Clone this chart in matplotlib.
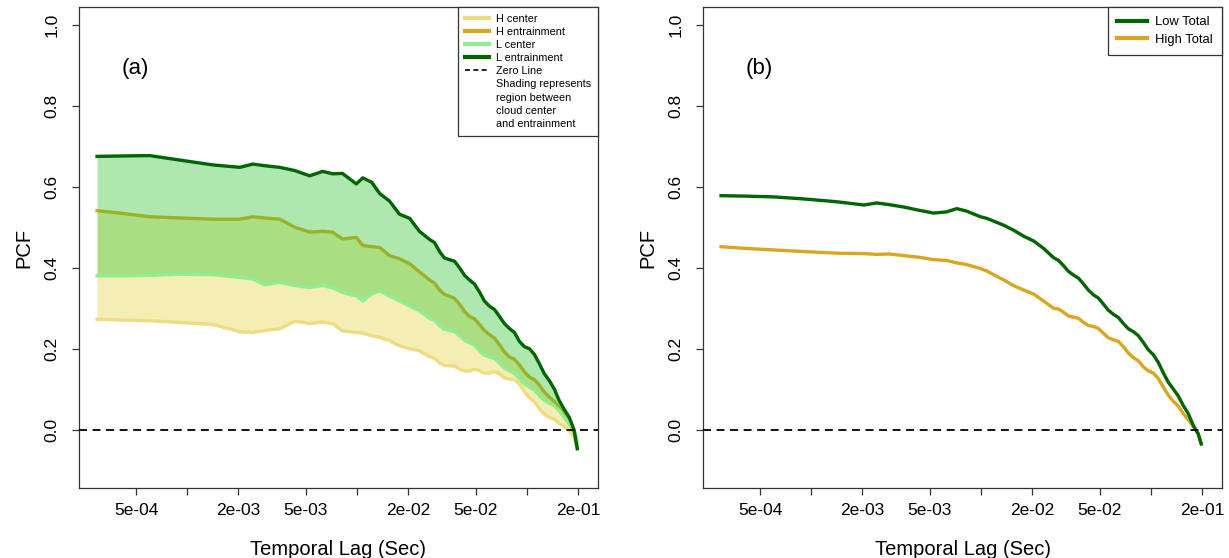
import matplotlib
matplotlib.use("Agg")
import matplotlib.pyplot as plt
from matplotlib.lines import Line2D

plt.rcParams['font.family'] = ['Liberation Sans', 'DejaVu Sans']

# ---- data ----
lag = [2.94e-4, 4.01e-4, 6.0e-4, 9.0e-4, 1.41e-3, 2.04e-3, 2.43e-3, 2.86e-3, 3.5e-3, 4.30e-3,
       5.26e-3, 6.27e-3, 7.18e-3, 8.2e-3, 9.9e-3, 1.08e-2, 1.22e-2, 1.36e-2, 1.55e-2, 1.78e-2,
       2.04e-2, 2.33e-2,
       2.67e-2, 2.86e-2, 3.06e-2, 3.27e-2, 3.50e-2, 3.75e-2, 4.01e-2, 4.30e-2, 4.59e-2, 4.91e-2,
       5.26e-2, 5.62e-2, 6.02e-2, 6.44e-2, 6.89e-2, 7.38e-2, 7.89e-2, 8.45e-2, 9.04e-2, 9.68e-2,
       0.1035, 0.1107, 0.1185, 0.1268, 0.1358, 0.1452, 0.155, 0.166, 0.178, 0.190, 0.198]

l_entrain = [0.675, 0.676, 0.677, 0.666, 0.654, 0.648, 0.656, 0.652, 0.648, 0.640,
             0.627, 0.638, 0.632, 0.633, 0.607, 0.622, 0.611, 0.583, 0.565, 0.532,
             0.522, 0.490,
             0.470, 0.462, 0.440, 0.424, 0.420, 0.416, 0.400, 0.381, 0.370, 0.360,
             0.340, 0.318, 0.305, 0.297, 0.280, 0.262, 0.250, 0.240, 0.218, 0.205,
             0.200, 0.186, 0.163, 0.138, 0.121, 0.100, 0.072, 0.050, 0.030, -0.002, -0.047]
h_entrain = [0.541, 0.535, 0.526, 0.523, 0.520, 0.520, 0.526, 0.523, 0.520, 0.500,
             0.488, 0.490, 0.488, 0.471, 0.475, 0.455, 0.452, 0.450, 0.430, 0.422,
             0.410, 0.390,
             0.370, 0.362, 0.345, 0.334, 0.330, 0.324, 0.310, 0.292, 0.280, 0.274,
             0.260, 0.245, 0.235, 0.226, 0.210, 0.192, 0.180, 0.174, 0.160, 0.143,
             0.130, 0.124, 0.110, 0.093, 0.080, 0.070, 0.055, 0.035, 0.015, -0.005, -0.040]
l_center = [0.380, 0.380, 0.381, 0.384, 0.383, 0.376, 0.372, 0.358, 0.364, 0.356,
            0.351, 0.356, 0.350, 0.339, 0.330, 0.318, 0.335, 0.343, 0.330, 0.318,
            0.305, 0.294,
            0.275, 0.270, 0.257, 0.248, 0.245, 0.242, 0.232, 0.221, 0.215, 0.209,
            0.195, 0.184, 0.180, 0.176, 0.165, 0.152, 0.145, 0.139, 0.126, 0.113,
            0.105, 0.098, 0.084, 0.072, 0.065, 0.059, 0.047, 0.030, 0.015, 0.000, -0.030]
h_center = [0.273, 0.271, 0.269, 0.265, 0.260, 0.242, 0.240, 0.245, 0.249, 0.268,
            0.262, 0.266, 0.262, 0.244, 0.240, 0.238, 0.232, 0.228, 0.220, 0.207,
            0.200, 0.195,
            0.180, 0.176, 0.165, 0.158, 0.158, 0.157, 0.150, 0.145, 0.145, 0.149,
            0.146, 0.140, 0.140, 0.143, 0.138, 0.128, 0.125, 0.123, 0.114, 0.094,
            0.079, 0.069, 0.052, 0.038, 0.030, 0.026, 0.015, 0.008, -0.002, -0.020, -0.044]

low_total = [0.578, 0.577, 0.575, 0.570, 0.563, 0.555, 0.560, 0.556, 0.550, 0.542,
             0.535, 0.538, 0.546, 0.540, 0.526, 0.522, 0.513, 0.505, 0.493, 0.478,
             0.466, 0.448,
             0.425, 0.418, 0.405, 0.391, 0.382, 0.374, 0.360, 0.344, 0.333, 0.325,
             0.310, 0.295, 0.285, 0.277, 0.262, 0.249, 0.242, 0.232, 0.215, 0.197,
             0.185, 0.166, 0.140, 0.117, 0.100, 0.083, 0.060, 0.040, 0.010, -0.010, -0.035]
high_total = [0.452, 0.448, 0.444, 0.440, 0.436, 0.435, 0.433, 0.434, 0.430, 0.426,
              0.420, 0.418, 0.412, 0.408, 0.398, 0.392, 0.380, 0.370, 0.356, 0.345,
              0.335, 0.318,
              0.300, 0.298, 0.290, 0.281, 0.278, 0.275, 0.265, 0.257, 0.255, 0.250,
              0.238, 0.227, 0.222, 0.218, 0.205, 0.189, 0.178, 0.170, 0.155, 0.145,
              0.140, 0.126, 0.105, 0.085, 0.070, 0.058, 0.040, 0.025, 0.008, -0.010, -0.035]

xticks = [5e-4, 1e-3, 2e-3, 5e-3, 1e-2, 2e-2, 5e-2, 1e-1, 2e-1]
xticklabels = ["5e-04", "", "2e-03", "5e-03", "", "2e-02", "5e-02", "", "2e-01"]
yticks = [0.0, 0.2, 0.4, 0.6, 0.8, 1.0]
yticklabels = ["0.0", "0.2", "0.4", "0.6", "0.8", "1.0"]

c_hc = '#EEDC82'
c_he = '#DAA520'
c_lc = '#90EE90'
c_le = '#006400'

W, H = 1229, 558
fig = plt.figure(figsize=(W / 100, H / 100), dpi=100)

def make_ax(left_px):
    ax = fig.add_axes([left_px / W, 1 - 488 / H, 519 / W, 481 / H])
    ax.set_xscale('log')
    ax.set_xlim(10 ** -3.638, 10 ** -0.581)
    ax.set_ylim(-0.144, 1.044)
    ax.set_xticks(xticks)
    ax.set_xticklabels(xticklabels)
    ax.xaxis.set_minor_locator(matplotlib.ticker.NullLocator())
    ax.set_yticks(yticks)
    ax.set_yticklabels(yticklabels)
    ax.tick_params(axis='both', length=5, width=0.9, color='#333333', labelsize=12.5)
    ax.tick_params(axis='x', pad=6)
    ax.tick_params(axis='y', pad=9, labelrotation=90)
    for lab in ax.get_yticklabels():
        lab.set_va('center')
    for s in ax.spines.values():
        s.set_linewidth(0.9)
        s.set_color('#333333')
    ax.set_xlabel("Temporal Lag (Sec)", fontsize=14.5, va='center')
    ax.xaxis.set_label_coords(0.5, -0.127)
    ax.set_ylabel("PCF", fontsize=14.5, va='center')
    ax.yaxis.set_label_coords(-0.106, 0.5)
    ax.axhline(0, color='black', lw=1.3, linestyle=(0, (4.4, 3.1)), zorder=5)
    return ax

# ---- panel (a) ----
ax1 = make_ax(79)
ax1.fill_between(lag, h_center, h_entrain, color='#F0E68C', alpha=0.65, lw=0, zorder=1)
ax1.plot(lag, h_center, color=c_hc, lw=2.4, zorder=2)
ax1.plot(lag, h_entrain, color=c_he, lw=2.4, zorder=2)
ax1.fill_between(lag, l_center, l_entrain, color='#39C639', alpha=0.4, lw=0, zorder=3)
ax1.plot(lag, l_center, color=c_lc, lw=2.4, zorder=4)
ax1.plot(lag, l_entrain, color=c_le, lw=2.4, zorder=4)
ax1.text(0.108, 0.873, "(a)", transform=ax1.transAxes, fontsize=16, ha='center', va='center')

handles = [Line2D([], [], color=c_hc, lw=3), Line2D([], [], color=c_he, lw=3),
           Line2D([], [], color=c_lc, lw=3), Line2D([], [], color=c_le, lw=3),
           Line2D([], [], color='black', lw=1.2, linestyle=(0, (3, 2)))]
labels = ["H center", "H entrainment", "L center", "L entrainment", "Zero Line"]
for t in ["Shading represents", "region between", "cloud center", "and entrainment"]:
    handles.append(Line2D([], [], color='none'))
    labels.append(t)
leg1 = ax1.legend(handles, labels, loc='upper right', borderaxespad=0, fontsize=7.8,
                  frameon=True, fancybox=False, edgecolor='#333333', framealpha=1,
                  handlelength=2.2, handletextpad=0.7, labelspacing=0.29,
                  borderpad=0.62)
leg1.get_frame().set_linewidth(0.9)

# ---- panel (b) ----
ax2 = make_ax(703)
ax2.plot(lag, low_total, color=c_le, lw=2.4, zorder=4)
ax2.plot(lag, high_total, color=c_he, lw=2.4, zorder=3)
ax2.text(0.108, 0.873, "(b)", transform=ax2.transAxes, fontsize=16, ha='center', va='center')
leg2 = ax2.legend([Line2D([], [], color=c_le, lw=3), Line2D([], [], color=c_he, lw=3)],
                  ["Low Total", "High Total"], loc='upper right', borderaxespad=0,
                  fontsize=9.4, frameon=True, fancybox=False, edgecolor='#333333',
                  framealpha=1, handlelength=2.3, handletextpad=0.6, labelspacing=0.4,
                  borderpad=0.7)
leg2.get_frame().set_linewidth(0.9)

fig.savefig("out.png", dpi=100)
